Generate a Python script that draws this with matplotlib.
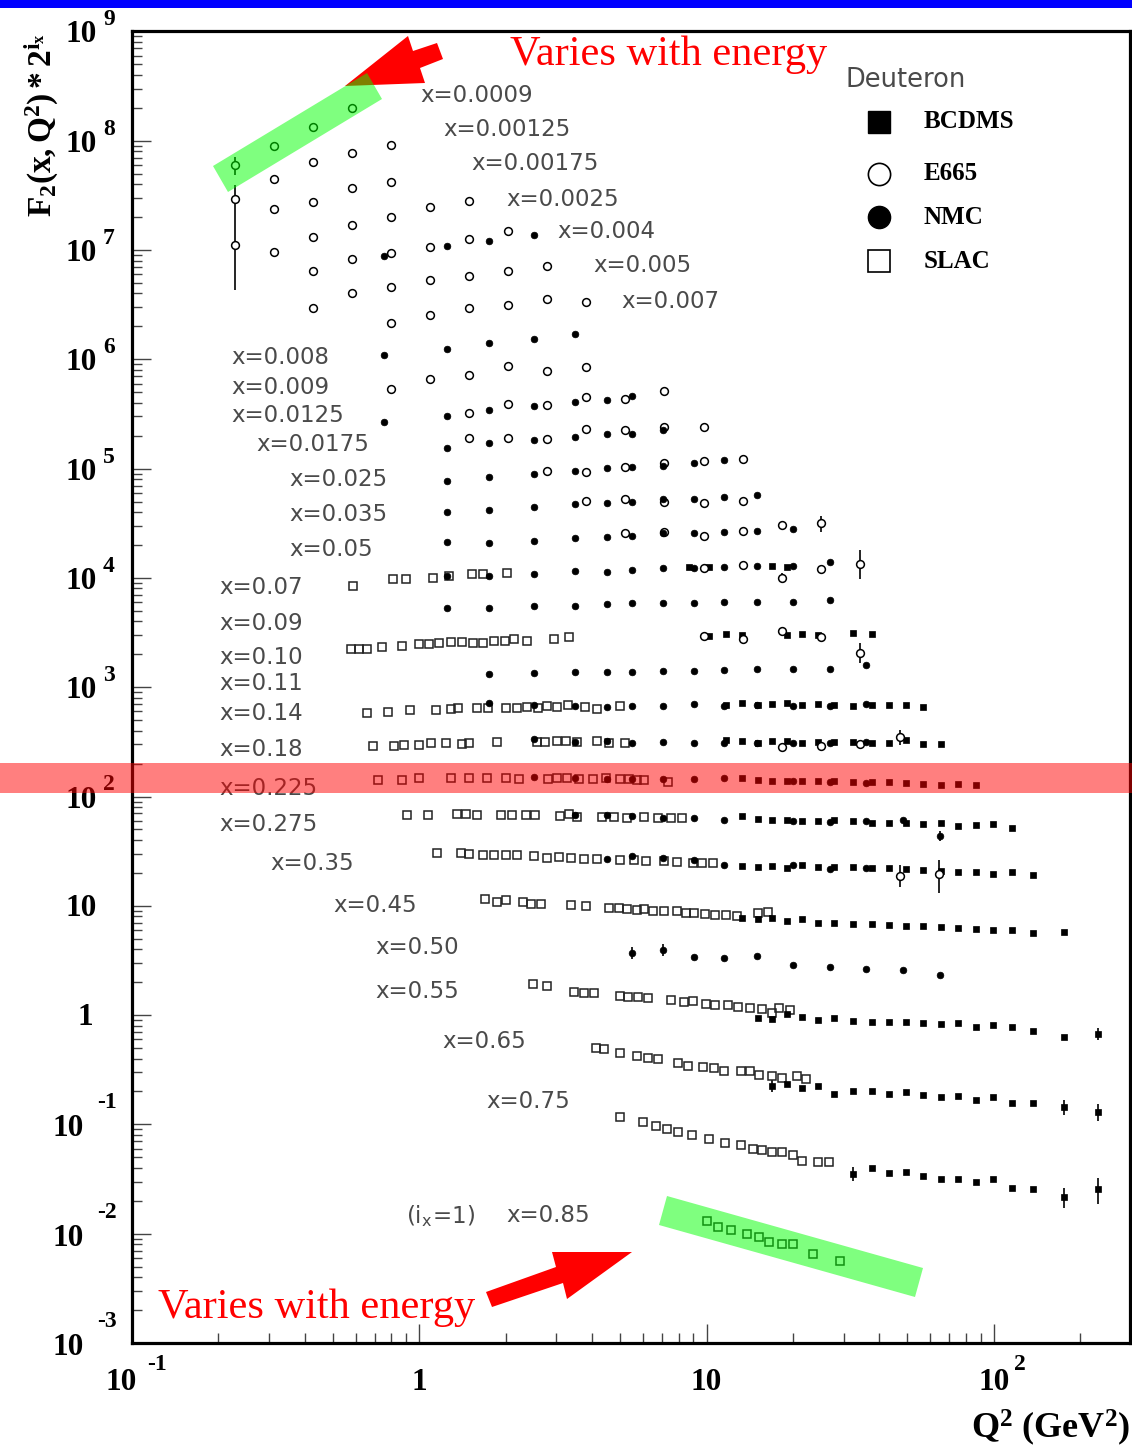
import numpy as np
import matplotlib
matplotlib.use("Agg")
import matplotlib.pyplot as plt
from matplotlib.patches import Polygon, Rectangle
from matplotlib.ticker import LogLocator, NullFormatter
from matplotlib.transforms import blended_transform_factory, offset_copy

plt.rcParams['mathtext.fontset'] = 'custom'
plt.rcParams['mathtext.rm'] = 'Liberation Serif'
plt.rcParams['mathtext.bf'] = 'Liberation Serif:bold'
plt.rcParams['mathtext.it'] = 'Liberation Serif:italic'

# x bins, bottom (i_x = 1) to top
x_bins = ["0.85", "0.75", "0.65", "0.55", "0.50", "0.45", "0.35", "0.275", "0.225",
          "0.18", "0.14", "0.11", "0.10", "0.09", "0.07", "0.05", "0.035", "0.025",
          "0.0175", "0.0125", "0.009", "0.008", "0.007", "0.005", "0.004", "0.0025",
          "0.00175", "0.00125", "0.0009"]

# ---- E665 (Q2 in GeV2, F2 unscaled)
e665_q_x0009 = [0.228, 0.312, 0.427, 0.583]
e665_f_x0009 = [0.112, 0.167, 0.249, 0.372]
e665_q_x00125 = [0.228, 0.312, 0.427, 0.583, 0.797]
e665_f_x00125 = [0.109, 0.167, 0.238, 0.289, 0.341]
e665_q_x00175 = [0.228, 0.312, 0.427, 0.583, 0.797]
e665_f_x00175 = [0.0833, 0.178, 0.206, 0.277, 0.314]
e665_q_x0025 = [0.312, 0.427, 0.583, 0.797, 1.09, 1.49]
e665_f_x0025 = [0.144, 0.198, 0.254, 0.301, 0.372, 0.421]
e665_q_x004 = [0.427, 0.583, 0.797, 1.09, 1.49, 2.04]
e665_f_x004 = [0.193, 0.249, 0.282, 0.320, 0.372, 0.449]
e665_q_x005 = [0.427, 0.583, 0.797, 1.09, 1.49, 2.04, 2.78]
e665_f_x005 = [0.176, 0.241, 0.274, 0.317, 0.345, 0.384, 0.426]
e665_q_x007 = [0.797, 1.09, 1.49, 2.04, 2.78, 3.80]
e665_f_x007 = [0.256, 0.303, 0.352, 0.375, 0.425, 0.399]
e665_q_x009 = [0.797, 1.09, 1.49, 2.04, 2.78, 3.80]
e665_f_x009 = [0.255, 0.315, 0.343, 0.414, 0.373, 0.406]
e665_q_x0125 = [1.49, 2.04, 2.78, 3.80, 5.20, 7.11]
e665_f_x0125 = [0.308, 0.373, 0.365, 0.431, 0.414, 0.490]
e665_q_x0175 = [1.49, 2.04, 2.78, 3.80, 5.20, 7.11, 9.79]
e665_f_x0175 = [0.364, 0.364, 0.356, 0.440, 0.430, 0.459, 0.459]
e665_q_x025 = [2.78, 3.80, 5.20, 7.11, 9.79, 13.4]
e665_f_x025 = [0.363, 0.356, 0.395, 0.430, 0.448, 0.467]
e665_q_x035 = [3.80, 5.20, 7.11, 9.79, 13.4]
e665_f_x035 = [0.386, 0.403, 0.378, 0.370, 0.386]
e665_q_x05 = [5.20, 7.11, 9.79, 13.4, 18.3, 25.0]
e665_f_x05 = [0.393, 0.402, 0.369, 0.410, 0.466, 0.486]
e665_q_x07 = [9.79, 13.4, 18.3, 25.0, 34.2]
e665_f_x07 = [0.377, 0.401, 0.305, 0.368, 0.409]
e665_q_x10 = [9.79, 13.4, 18.3, 25.0]
e665_f_x10 = [0.359, 0.337, 0.399, 0.352]
e665_q_x11 = [34.2]
e665_f_x11 = [0.502]
e665_q_x18 = [18.3, 25.0, 34.2, 47.1]
e665_f_x18 = [0.277, 0.283, 0.295, 0.342]
e665_q_x35 = [47.1, 64.4]
e665_f_x35 = [0.146, 0.152]

# ---- NMC
nmc_q_x004 = [0.754, 1.25, 1.75, 2.51]
nmc_f_x004 = [0.260, 0.327, 0.364, 0.413]
nmc_q_x008 = [0.754, 1.25, 1.75, 2.51, 3.48]
nmc_f_x008 = [0.262, 0.296, 0.336, 0.366, 0.407]
nmc_q_x0125 = [0.754, 1.25, 1.75, 2.51, 3.48, 4.50, 5.50]
nmc_f_x0125 = [0.255, 0.289, 0.328, 0.357, 0.389, 0.405, 0.441]
nmc_q_x0175 = [1.25, 1.75, 2.51, 3.48, 4.50, 5.50, 7.05]
nmc_f_x0175 = [0.295, 0.327, 0.349, 0.372, 0.396, 0.396, 0.430]
nmc_q_x025 = [1.25, 1.75, 2.51, 3.48, 4.50, 5.50, 7.05, 9.04, 11.5]
nmc_f_x025 = [0.294, 0.320, 0.341, 0.363, 0.387, 0.395, 0.403, 0.430, 0.458]
nmc_q_x035 = [1.25, 1.75, 2.51, 3.48, 4.50, 5.50, 7.05, 9.04, 11.5, 15.0]
nmc_f_x035 = [0.306, 0.319, 0.340, 0.362, 0.370, 0.378, 0.403, 0.403, 0.420, 0.438]
nmc_q_x05 = [1.25, 1.75, 2.51, 3.48, 4.50, 5.50, 7.05, 9.04, 11.5, 15.0, 20.0]
nmc_f_x05 = [0.325, 0.318, 0.332, 0.354, 0.362, 0.369, 0.393, 0.393, 0.402, 0.410, 0.428]
nmc_q_x07 = [1.25, 1.75, 2.51, 3.48, 4.50, 5.50, 7.05, 9.04, 11.5, 15.0, 20.0, 26.9]
nmc_f_x07 = [0.318, 0.318, 0.331, 0.353, 0.346, 0.361, 0.377, 0.377, 0.384, 0.392, 0.392, 0.427]
nmc_q_x09 = [1.25, 1.75, 2.51, 3.48, 4.50, 5.50, 7.05, 9.04, 11.5, 15.0, 20.0, 26.9]
nmc_f_x09 = [0.324, 0.324, 0.338, 0.338, 0.353, 0.360, 0.360, 0.360, 0.368, 0.368, 0.368, 0.384]
nmc_q_x11 = [1.75, 2.51, 3.48, 4.50, 5.50, 7.05, 9.04, 11.5, 15.0, 20.0, 26.9, 35.9]
nmc_f_x11 = [0.323, 0.330, 0.337, 0.337, 0.337, 0.344, 0.344, 0.351, 0.359, 0.359, 0.359, 0.390]
nmc_q_x14 = [1.75, 2.51, 3.48, 4.50, 5.50, 7.05, 9.04, 11.5, 15.0, 20.0, 26.9, 35.9]
nmc_f_x14 = [0.350, 0.336, 0.329, 0.322, 0.329, 0.329, 0.343, 0.329, 0.336, 0.329, 0.329, 0.343]
nmc_q_x18 = [2.51, 3.48, 4.50, 5.50, 7.05, 9.04, 11.5, 15.0, 20.0, 26.9, 35.9]
nmc_f_x18 = [0.328, 0.308, 0.315, 0.302, 0.308, 0.302, 0.302, 0.302, 0.302, 0.302, 0.308]
nmc_q_x225 = [2.51, 3.48, 4.50, 5.50, 7.05, 9.04, 11.5, 20.0, 26.9, 35.9]
nmc_f_x225 = [0.295, 0.289, 0.282, 0.282, 0.282, 0.282, 0.289, 0.271, 0.265, 0.260]
nmc_q_x275 = [3.48, 4.50, 5.50, 7.05, 9.04, 11.5, 20.0, 26.9, 35.9, 48.3, 64.9]
nmc_f_x275 = [0.264, 0.264, 0.259, 0.248, 0.248, 0.238, 0.233, 0.228, 0.233, 0.238, 0.170]
nmc_q_x35 = [4.50, 5.50, 7.05, 9.04, 11.5, 20.0, 26.9, 35.9]
nmc_f_x35 = [0.209, 0.223, 0.213, 0.204, 0.184, 0.184, 0.170, 0.173]
nmc_q_x50 = [5.50, 7.05, 9.04, 11.5, 15.0, 20.0, 26.9, 35.9, 48.3, 64.9]
nmc_f_x50 = [0.116, 0.123, 0.106, 0.104, 0.108, 0.090, 0.086, 0.083, 0.081, 0.073]

# ---- BCDMS
bcdms_q_x07 = [8.68, 10.2, 16.9, 19.0]
bcdms_f_x07 = [0.384, 0.384, 0.392, 0.384]
bcdms_q_x10 = [10.2, 11.7, 13.3, 19.0, 21.5, 24.4, 32.4, 37.7]
bcdms_f_x10 = [0.359, 0.375, 0.367, 0.367, 0.375, 0.367, 0.383, 0.375]
bcdms_q_x14 = [11.7, 13.3, 15.1, 16.9, 19.0, 21.5, 24.4, 27.7, 32.4, 37.7, 43.2, 49.4, 56.6]
bcdms_f_x14 = [0.336, 0.350, 0.336, 0.343, 0.350, 0.336, 0.343, 0.336, 0.329, 0.336, 0.336, 0.336, 0.322]
bcdms_q_x18 = [11.7, 13.3, 15.1, 16.9, 19.0, 21.5, 24.4, 27.7, 32.4, 37.7, 43.2, 49.4, 56.6, 65.4]
bcdms_f_x18 = [0.321, 0.315, 0.302, 0.315, 0.315, 0.302, 0.308, 0.308, 0.308, 0.302, 0.302, 0.321, 0.295, 0.295]
bcdms_q_x225 = [13.3, 15.1, 16.9, 19.0, 21.5, 24.4, 27.7, 32.4, 37.7, 43.2, 49.4, 56.6, 65.4, 75.0, 86.7]
bcdms_f_x225 = [0.289, 0.277, 0.271, 0.271, 0.271, 0.271, 0.271, 0.265, 0.265, 0.265, 0.260, 0.254, 0.249, 0.254, 0.249]
bcdms_q_x275 = [13.3, 15.1, 16.9, 19.0, 21.5, 24.4, 27.7, 32.4, 37.7, 43.2, 49.4, 56.6, 65.4, 75.0, 86.7, 99.3, 116]
bcdms_f_x275 = [0.259, 0.243, 0.238, 0.238, 0.233, 0.233, 0.238, 0.233, 0.224, 0.224, 0.224, 0.219, 0.224, 0.210, 0.214, 0.219, 0.201]
bcdms_q_x35 = [13.3, 15.1, 16.9, 19.0, 21.5, 24.4, 27.7, 32.4, 37.7, 43.2, 49.4, 56.6, 65.4, 75.0, 86.7, 99.3, 116, 137]
bcdms_f_x35 = [0.181, 0.177, 0.181, 0.173, 0.184, 0.177, 0.177, 0.177, 0.173, 0.173, 0.170, 0.166, 0.163, 0.159, 0.159, 0.152, 0.159, 0.149]
bcdms_q_x45 = [13.3, 15.1, 16.9, 19.0, 21.5, 24.4, 27.7, 32.4, 37.7, 43.2, 49.4, 56.6, 65.4, 75.0, 86.7, 99.3, 116, 137, 175]
bcdms_f_x45 = [0.121, 0.118, 0.121, 0.114, 0.118, 0.109, 0.109, 0.106, 0.106, 0.104, 0.102, 0.102, 0.100, 0.098, 0.096, 0.094, 0.094, 0.088, 0.090]
bcdms_q_x55 = [15.1, 16.9, 19.0, 21.5, 24.4, 27.7, 32.4, 37.7, 43.2, 49.4, 56.6, 65.4, 75.0, 86.7, 99.3, 116, 137, 175, 230]
bcdms_f_x55 = [0.0588, 0.0576, 0.0640, 0.0601, 0.0564, 0.0588, 0.0552, 0.0541, 0.0541, 0.0541, 0.0530, 0.0518, 0.0530, 0.0487, 0.0508, 0.0487, 0.0447, 0.0394, 0.0420]
bcdms_q_x65 = [16.9, 19.0, 21.5, 24.4, 27.7, 32.4, 37.7, 43.2, 49.4, 56.6, 65.4, 75.0, 86.7, 99.3, 116, 137, 175, 230]
bcdms_f_x65 = [0.0281, 0.0293, 0.0269, 0.0281, 0.0237, 0.0253, 0.0253, 0.0237, 0.0247, 0.0232, 0.0223, 0.0227, 0.0209, 0.0223, 0.0196, 0.0196, 0.0180, 0.0162]
bcdms_q_x75 = [32.4, 37.7, 43.2, 49.4, 56.6, 65.4, 75.0, 86.7, 99.3, 116, 137, 175, 230]
bcdms_f_x75 = [0.00880, 0.00998, 0.00898, 0.00917, 0.00843, 0.00792, 0.00792, 0.00743, 0.00792, 0.00655, 0.00641, 0.00542, 0.00641]

# ---- SLAC
slac_q_x07 = [0.588, 0.810, 0.899, 1.116, 1.269, 1.525, 1.666, 2.020]
slac_f_x07 = [0.258, 0.298, 0.298, 0.305, 0.318, 0.331, 0.331, 0.339]
slac_q_x10 = [0.578, 0.617, 0.658, 0.742, 0.871, 1.00, 1.081, 1.171, 1.289, 1.408, 1.538, 1.666,
              1.820, 1.988, 2.136, 2.371, 2.943, 3.319]
slac_f_x10 = [0.273, 0.273, 0.273, 0.285, 0.291, 0.303, 0.303, 0.310, 0.316, 0.316, 0.310, 0.310,
              0.323, 0.323, 0.338, 0.323, 0.338, 0.352]
slac_q_x14 = [0.658, 0.778, 0.928, 1.143, 1.289, 1.364, 1.588, 1.734, 2.004, 2.189, 2.371, 2.589,
              2.783, 3.015, 3.293, 3.774, 4.155, 4.995]
slac_f_x14 = [0.284, 0.290, 0.302, 0.302, 0.309, 0.315, 0.315, 0.315, 0.315, 0.315, 0.322, 0.315,
              0.329, 0.322, 0.336, 0.322, 0.309, 0.329]
slac_q_x18 = [0.690, 0.817, 0.885, 1.00, 1.098, 1.238, 1.408, 1.489, 1.865, 2.569, 2.738, 3.015,
              3.241, 3.539, 4.155, 4.574, 5.200]
slac_f_x18 = [0.283, 0.283, 0.289, 0.289, 0.302, 0.302, 0.295, 0.302, 0.308, 0.308, 0.308, 0.315,
              0.315, 0.308, 0.315, 0.302, 0.302]
slac_q_x225 = [0.718, 0.871, 1.00, 1.289, 1.489, 1.720, 2.004, 2.223, 2.805, 3.015, 3.267, 3.596,
               4.024, 4.466, 4.995, 5.370, 5.726, 6.056, 7.338]
slac_f_x225 = [0.277, 0.277, 0.289, 0.289, 0.289, 0.289, 0.289, 0.282, 0.282, 0.289, 0.289, 0.282,
               0.282, 0.289, 0.282, 0.282, 0.277, 0.277, 0.265]
slac_q_x275 = [0.906, 1.072, 1.353, 1.454, 1.588, 1.925, 2.102, 2.352, 2.527, 3.088, 3.319, 3.539,
               4.325, 4.762, 5.284, 6.056, 6.773, 7.517, 8.213]
slac_f_x275 = [0.264, 0.264, 0.270, 0.270, 0.264, 0.264, 0.264, 0.264, 0.264, 0.259, 0.270, 0.254,
               0.254, 0.254, 0.248, 0.254, 0.248, 0.248, 0.248]
slac_q_x35 = [1.152, 1.397, 1.489, 1.666, 1.820, 2.004, 2.189, 2.507, 2.783, 3.064, 3.373, 3.743,
              4.155, 4.995, 5.614, 6.180, 7.140, 7.862, 9.007, 9.681, 10.57]
slac_f_x35 = [0.238, 0.238, 0.233, 0.228, 0.228, 0.228, 0.228, 0.223, 0.213, 0.218, 0.213, 0.209,
              0.209, 0.204, 0.204, 0.200, 0.200, 0.196, 0.192, 0.192, 0.192]
slac_q_x45 = [1.693, 1.865, 2.004, 2.296, 2.448, 2.652, 3.373, 3.804, 4.574, 4.956, 5.284, 5.726,
              6.056, 6.503, 7.104, 7.884, 8.472, 9.034, 9.865, 10.69, 11.68, 12.75, 15.09, 16.35]
slac_f_x45 = [0.180, 0.169, 0.177, 0.169, 0.162, 0.162, 0.159, 0.156, 0.149, 0.149, 0.146, 0.143,
              0.146, 0.140, 0.140, 0.140, 0.134, 0.134, 0.131, 0.128, 0.128, 0.126, 0.134, 0.137]
slac_q_x55 = [2.487, 2.783, 3.455, 3.744, 4.056, 4.995, 5.327, 5.772, 6.254, 7.517, 8.343, 8.970,
              9.952, 10.70, 11.87, 12.86, 14.16, 15.59, 16.89, 17.87, 19.52]
slac_f_x55 = [0.121, 0.115, 0.102, 0.100, 0.100, 0.094, 0.092, 0.092, 0.090, 0.086, 0.082, 0.084,
              0.079, 0.077, 0.077, 0.074, 0.073, 0.071, 0.065, 0.073, 0.070]
slac_q_x65 = [4.121, 4.395, 4.995, 5.726, 6.254, 6.773, 7.954, 8.617, 9.716, 10.61, 11.50, 13.17,
              14.16, 15.22, 16.89, 18.30, 20.64, 22.18]
slac_f_x65 = [0.0625, 0.0612, 0.0563, 0.0528, 0.0506, 0.0496, 0.0456, 0.0428, 0.0419, 0.0410, 0.0385,
              0.0385, 0.0385, 0.0354, 0.0347, 0.0332, 0.0347, 0.0325]
slac_q_x75 = [4.995, 6.007, 6.667, 7.280, 7.954, 8.916, 10.22, 11.62, 13.17, 14.51, 15.59, 16.89,
              18.30, 19.98, 21.48, 24.42, 26.67]
slac_f_x75 = [0.0292, 0.0263, 0.0242, 0.0227, 0.0213, 0.0200, 0.0184, 0.0169, 0.0162, 0.0149, 0.0146,
              0.0140, 0.0140, 0.0131, 0.0116, 0.0113, 0.0113]
slac_q_x85 = [10.0, 11.00, 12.21, 13.88, 15.29, 16.56, 18.37, 19.98, 23.46, 29.13]
slac_f_x85 = [0.00653, 0.00576, 0.00540, 0.00497, 0.00466, 0.00420, 0.00402, 0.00402, 0.00326, 0.00281]

# visible error bars (F2 low / high)
err_bin = ["0.0009", "0.00175", "0.05", "0.07", "0.07", "0.11", "0.18", "0.35", "0.35", "0.275",
           "0.50", "0.50", "0.55", "0.65", "0.65", "0.65", "0.75", "0.75", "0.75"]
err_q2 = [0.228, 0.228, 25.0, 18.3, 34.2, 34.2, 47.1, 47.1, 64.4, 64.9,
          5.50, 7.05, 230, 16.9, 175, 230, 32.4, 175, 230]
err_lo = [0.0906, 0.0323, 0.402, 0.274, 0.298, 0.407, 0.289, 0.116, 0.102, 0.153,
          0.102, 0.108, 0.0370, 0.0247, 0.0152, 0.0134, 0.00759, 0.00434, 0.00467]
err_hi = [0.132, 0.295, 0.563, 0.339, 0.550, 0.620, 0.397, 0.184, 0.205, 0.189,
          0.131, 0.140, 0.0476, 0.0316, 0.0209, 0.0192, 0.0102, 0.00655, 0.00808]

series = [
    ("SLAC", "0.07", slac_q_x07, slac_f_x07), ("SLAC", "0.10", slac_q_x10, slac_f_x10),
    ("SLAC", "0.14", slac_q_x14, slac_f_x14), ("SLAC", "0.18", slac_q_x18, slac_f_x18),
    ("SLAC", "0.225", slac_q_x225, slac_f_x225), ("SLAC", "0.275", slac_q_x275, slac_f_x275),
    ("SLAC", "0.35", slac_q_x35, slac_f_x35), ("SLAC", "0.45", slac_q_x45, slac_f_x45),
    ("SLAC", "0.55", slac_q_x55, slac_f_x55), ("SLAC", "0.65", slac_q_x65, slac_f_x65),
    ("SLAC", "0.75", slac_q_x75, slac_f_x75), ("SLAC", "0.85", slac_q_x85, slac_f_x85),
    ("BCDMS", "0.07", bcdms_q_x07, bcdms_f_x07), ("BCDMS", "0.10", bcdms_q_x10, bcdms_f_x10),
    ("BCDMS", "0.14", bcdms_q_x14, bcdms_f_x14), ("BCDMS", "0.18", bcdms_q_x18, bcdms_f_x18),
    ("BCDMS", "0.225", bcdms_q_x225, bcdms_f_x225), ("BCDMS", "0.275", bcdms_q_x275, bcdms_f_x275),
    ("BCDMS", "0.35", bcdms_q_x35, bcdms_f_x35), ("BCDMS", "0.45", bcdms_q_x45, bcdms_f_x45),
    ("BCDMS", "0.55", bcdms_q_x55, bcdms_f_x55), ("BCDMS", "0.65", bcdms_q_x65, bcdms_f_x65),
    ("BCDMS", "0.75", bcdms_q_x75, bcdms_f_x75),
    ("E665", "0.0009", e665_q_x0009, e665_f_x0009), ("E665", "0.00125", e665_q_x00125, e665_f_x00125),
    ("E665", "0.00175", e665_q_x00175, e665_f_x00175), ("E665", "0.0025", e665_q_x0025, e665_f_x0025),
    ("E665", "0.004", e665_q_x004, e665_f_x004), ("E665", "0.005", e665_q_x005, e665_f_x005),
    ("E665", "0.007", e665_q_x007, e665_f_x007), ("E665", "0.009", e665_q_x009, e665_f_x009),
    ("E665", "0.0125", e665_q_x0125, e665_f_x0125), ("E665", "0.0175", e665_q_x0175, e665_f_x0175),
    ("E665", "0.025", e665_q_x025, e665_f_x025), ("E665", "0.035", e665_q_x035, e665_f_x035),
    ("E665", "0.05", e665_q_x05, e665_f_x05), ("E665", "0.07", e665_q_x07, e665_f_x07),
    ("E665", "0.10", e665_q_x10, e665_f_x10), ("E665", "0.11", e665_q_x11, e665_f_x11),
    ("E665", "0.18", e665_q_x18, e665_f_x18), ("E665", "0.35", e665_q_x35, e665_f_x35),
    ("NMC", "0.004", nmc_q_x004, nmc_f_x004), ("NMC", "0.008", nmc_q_x008, nmc_f_x008),
    ("NMC", "0.0125", nmc_q_x0125, nmc_f_x0125), ("NMC", "0.0175", nmc_q_x0175, nmc_f_x0175),
    ("NMC", "0.025", nmc_q_x025, nmc_f_x025), ("NMC", "0.035", nmc_q_x035, nmc_f_x035),
    ("NMC", "0.05", nmc_q_x05, nmc_f_x05), ("NMC", "0.07", nmc_q_x07, nmc_f_x07),
    ("NMC", "0.09", nmc_q_x09, nmc_f_x09), ("NMC", "0.11", nmc_q_x11, nmc_f_x11),
    ("NMC", "0.14", nmc_q_x14, nmc_f_x14), ("NMC", "0.18", nmc_q_x18, nmc_f_x18),
    ("NMC", "0.225", nmc_q_x225, nmc_f_x225), ("NMC", "0.275", nmc_q_x275, nmc_f_x275),
    ("NMC", "0.35", nmc_q_x35, nmc_f_x35), ("NMC", "0.50", nmc_q_x50, nmc_f_x50),
]

styles = {
    "SLAC": dict(marker='s', ms=5.3, mfc='none', mec='#222222', mew=1.1, zorder=3),
    "BCDMS": dict(marker='s', ms=4.6, mfc='black', mec='black', mew=0.5, zorder=4),
    "E665": dict(marker='o', ms=5.6, mfc='white', mec='black', mew=1.1, zorder=5),
    "NMC": dict(marker='o', ms=4.8, mfc='black', mec='black', mew=0.5, zorder=6),
}

W, H = 1132, 1451


def scale(b):
    return 2.0 ** (x_bins.index(b) + 1)


def fp(x, y):
    # figure pixel (from top-left) -> figure fraction
    return (x / W, 1 - y / H)


fig = plt.figure(figsize=(W / 100, H / 100), dpi=100)
ax = fig.add_axes([132 / W, 1 - 1343 / H, 998 / W, 1311.6 / H])
ax.set_xscale('log')
ax.set_yscale('log')
ax.set_xlim(0.1, 298)
ax.set_ylim(1e-3, 1e9)

for exp, b, q, f in series:
    ax.plot(q, np.array(f) * scale(b), ls='none', **styles[exp])

for b, q, lo, hi in zip(err_bin, err_q2, err_lo, err_hi):
    ax.vlines(q, lo * scale(b), hi * scale(b), color='black', lw=1.2, zorder=2)

# axes frame and ticks (ROOT style)
for s in ax.spines.values():
    s.set_linewidth(2.3)
ax.xaxis.set_major_locator(LogLocator(base=10, numticks=20))
ax.xaxis.set_minor_locator(LogLocator(base=10, subs=np.arange(2, 10), numticks=20))
ax.yaxis.set_major_locator(LogLocator(base=10, numticks=40))
ax.yaxis.set_minor_locator(LogLocator(base=10, subs=np.arange(2, 10), numticks=40))
ax.xaxis.set_minor_formatter(NullFormatter())
ax.yaxis.set_minor_formatter(NullFormatter())
ax.tick_params(which='both', direction='in', top=False, right=False,
               labelleft=False, labelbottom=False, color='#444444', width=1)
ax.tick_params(which='major', length=14)
ax.tick_params(which='minor', length=7)

tick_font = dict(family='Liberation Serif', weight='bold', color='black')
big, small = 22.5, 17
ty = blended_transform_factory(fig.transFigure, ax.transData)
for e in range(-3, 10):
    y = 10.0 ** e
    if e == 0:
        ax.text(93 / W, y, "1", transform=offset_copy(ty, fig, y=-10, units='dots'),
                ha='right', va='baseline', fontsize=big, clip_on=False, **tick_font)
    elif e == 1:
        ax.text(97 / W, y, "10", transform=offset_copy(ty, fig, y=-10, units='dots'),
                ha='right', va='baseline', fontsize=big, clip_on=False, **tick_font)
    elif e > 1:
        ax.text(97 / W, y, "10", transform=offset_copy(ty, fig, y=-11, units='dots'),
                ha='right', va='baseline', fontsize=big, clip_on=False, **tick_font)
        ax.text(103 / W, y, str(e), transform=offset_copy(ty, fig, y=6, units='dots'),
                ha='left', va='baseline', fontsize=small, clip_on=False, **tick_font)
    else:
        ax.text(84 / W, y, "10", transform=offset_copy(ty, fig, y=-12, units='dots'),
                ha='right', va='baseline', fontsize=big, clip_on=False, **tick_font)
        ax.text(97 / W, y, str(e), transform=offset_copy(ty, fig, y=16, units='dots'),
                ha='left', va='baseline', fontsize=small, clip_on=False, **tick_font)

tx = blended_transform_factory(ax.transData, fig.transFigure)
xb = 1 - 1390 / H
xs = 1 - 1370 / H
ax.text(0.1, xb, "10", transform=offset_copy(tx, fig, x=-11, units='dots'),
        ha='center', va='baseline', fontsize=big, clip_on=False, **tick_font)
ax.text(0.1, xs, "-1", transform=offset_copy(tx, fig, x=15, units='dots'),
        ha='left', va='baseline', fontsize=small, clip_on=False, **tick_font)
ax.text(1, xb, "1", transform=tx, ha='center', va='baseline', fontsize=big, clip_on=False, **tick_font)
ax.text(10, xb, "10", transform=tx, ha='center', va='baseline', fontsize=big, clip_on=False, **tick_font)
ax.text(100, xb, "10", transform=tx, ha='center', va='baseline', fontsize=big, clip_on=False, **tick_font)
ax.text(100, xs, "2", transform=offset_copy(tx, fig, x=20, units='dots'),
        ha='left', va='baseline', fontsize=small, clip_on=False, **tick_font)

# axis titles
fig.text(*fp(42, 33), r'$\mathbf{F_{2}(x,Q^{2})*2^{i_{x}}}$', rotation=90,
         ha='center', va='top', fontsize=24)
fig.text(*fp(1130, 1428), r'$\mathbf{Q^{2}\ (GeV^{2})}$', ha='right', va='center', fontsize=26)

# bin labels
label_pos = {
    "0.0009": (420, 96), "0.00125": (443, 130), "0.00175": (471, 164), "0.0025": (506, 199),
    "0.004": (557, 232), "0.005": (593, 266), "0.007": (621, 301), "0.008": (231, 357),
    "0.009": (231, 388), "0.0125": (231, 416), "0.0175": (256, 444), "0.025": (289, 480),
    "0.035": (289, 514), "0.05": (289, 550), "0.07": (219, 587), "0.09": (219, 623),
    "0.10": (219, 658), "0.11": (219, 684), "0.14": (219, 713), "0.18": (219, 750),
    "0.225": (219, 788), "0.275": (219, 825), "0.35": (270, 864), "0.45": (333, 906),
    "0.50": (375, 948), "0.55": (375, 992), "0.65": (442, 1042), "0.75": (486, 1101),
    "0.85": (506, 1216),
}
gray = '#4a4a4a'
for b in x_bins:
    x, y = label_pos[b]
    fig.text(*fp(x, y), "x=" + b, ha='left', va='center', fontsize=16.5,
             family='DejaVu Sans', color=gray)
fig.text(*fp(406, 1216), r'$\mathregular{(i_{x}\!=\!1)}$', ha='left', va='center',
         fontsize=16.5, family='DejaVu Sans', color=gray)

# legend
fig.text(*fp(845, 80), "Deuteron", ha='left', va='center', fontsize=18.5,
         family='DejaVu Sans', color=gray)
leg = [("BCDMS", 122, dict(marker='s', mfc='black', mec='black')),
       ("E665", 174, dict(marker='o', mfc='white', mec='black', mew=1.2)),
       ("NMC", 217, dict(marker='o', mfc='black', mec='black')),
       ("SLAC", 261, dict(marker='s', mfc='white', mec='black', mew=1.2))]
for name, y, st in leg:
    fx, fy = fp(879, y)
    ax.plot([fx], [fy], transform=fig.transFigure, clip_on=False, ls='none', ms=16, **st)
    fig.text(*fp(924, y), name, ha='left', va='center', fontsize=18,
             family='Liberation Serif', weight='bold')

# red annotations
red = '#ff0000'
fig.text(*fp(510, 55), "Varies with energy", ha='left', va='center', fontsize=30.5,
         family='Liberation Serif', color=red)
fig.text(*fp(158, 1308), "Varies with energy", ha='left', va='center', fontsize=30.5,
         family='Liberation Serif', color=red)
arrow_top = [(345, 86), (408, 36), (413, 51), (437, 43), (443, 59), (420, 68), (425, 83)]
arrow_bot = [(486, 1292), (556, 1267), (552, 1252), (632, 1252), (567, 1299), (563, 1283), (492, 1307)]
for pts in (arrow_top, arrow_bot):
    fig.add_artist(Polygon([fp(x, y) for x, y in pts], closed=True, transform=fig.transFigure,
                           facecolor=red, edgecolor='none', zorder=11))

green_top = [(213, 166), (367, 73), (382, 99), (228, 192)]
green_bot = [(667, 1196), (923, 1268), (915, 1297), (659, 1225)]
for pts in (green_top, green_bot):
    fig.add_artist(Polygon([fp(x, y) for x, y in pts], closed=True, transform=fig.transFigure,
                           facecolor=(0, 1, 0, 0.5), edgecolor='none', zorder=12))

# highlighted row and top bar
fig.add_artist(Rectangle(fp(0, 793), 1, 30 / H, transform=fig.transFigure,
                         facecolor=(1, 0, 0, 0.5), edgecolor='none', zorder=12))
fig.add_artist(Rectangle(fp(0, 8), 1, 8 / H, transform=fig.transFigure,
                         facecolor='#0000ff', edgecolor='none', zorder=12))

fig.savefig("out.png", dpi=100)
